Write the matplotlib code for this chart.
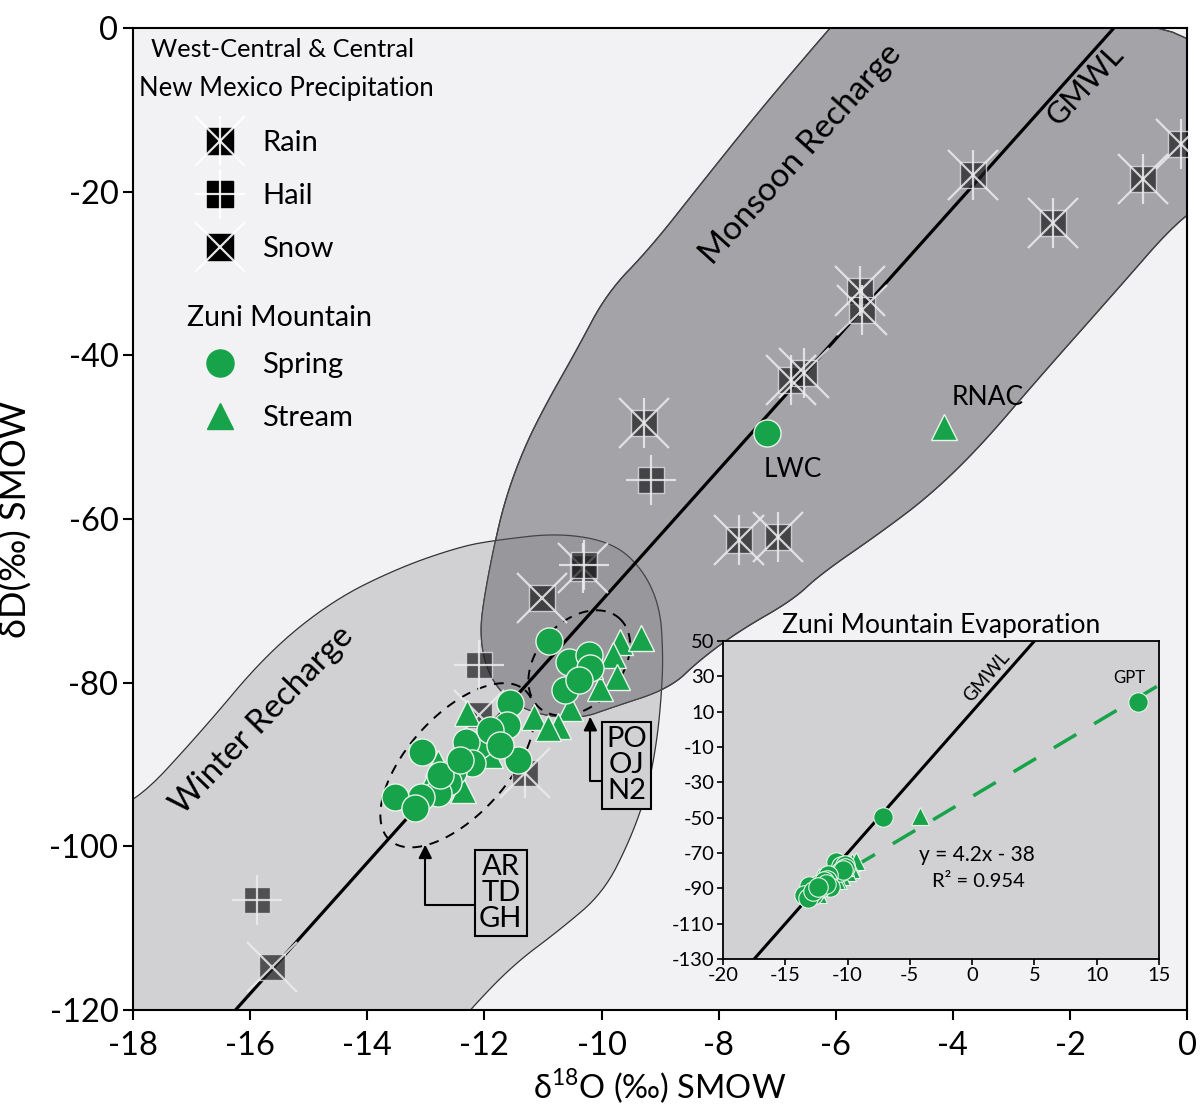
import matplotlib
matplotlib.use('Agg')
import matplotlib.pyplot as plt
import numpy as np
from matplotlib.lines import Line2D
from matplotlib.legend_handler import HandlerTuple
from matplotlib.patches import Polygon

plt.rcParams['font.family'] = ['Lato', 'DejaVu Sans']
plt.rcParams['axes.unicode_minus'] = False
plt.rcParams['mathtext.fontset'] = 'custom'
plt.rcParams['mathtext.rm'] = 'Lato'

# precipitation samples (d18O, dD)
rain_x = [-3.66, -2.29, -0.75, -0.10, -5.58, -5.55, -6.77, -6.55, -9.27, -7.66, -6.99, -10.32, -11.3]
rain_y = [-18.0, -23.8, -18.5, -14.2, -32.2, -34.5, -43.0, -42.2, -48.3, -62.6, -62.2, -66.0, -91.0]
hail_x = [-9.15, -12.10, -15.88, -10.30]
hail_y = [-55.2, -77.8, -106.6, -65.6]
snow_x = [-11.01, -15.62, -12.1]
snow_y = [-69.7, -114.7, -84.0]

# Zuni Mountain springs and streams
spring_x = [-10.89, -10.56, -10.21, -10.19, -10.63, -10.38, -11.57, -11.62, -11.42, -12.09,
            -12.32, -12.21, -12.53, -13.06, -12.62, -12.79, -13.09, -13.52, -13.18, -11.90,
            -11.73, -12.75, -12.41, -7.18]
spring_y = [-74.9, -77.5, -76.6, -78.2, -80.9, -79.7, -82.5, -85.2, -89.5, -87.6,
            -87.3, -89.8, -90.9, -88.5, -92.1, -93.5, -94.0, -94.0, -95.3, -85.8,
            -87.6, -91.3, -89.5, -49.5]
stream_x = [-9.68, -9.33, -9.81, -9.74, -10.02, -10.53, -10.75, -10.2,
            -12.29, -11.16, -12.80, -12.36, -12.92, -11.9, -10.92, -4.15]
stream_y = [-75.0, -74.5, -76.6, -79.3, -80.7, -83.1, -85.3, -78.0,
            -83.7, -84.2, -89.8, -93.1, -91.9, -88.8, -85.5, -48.8]
gpt_x = [13.3]
gpt_y = [15.5]

# meteoric water line and evaporation fit
gmwl_slope, gmwl_int = 8.0, 10.0
evap_slope, evap_int = 4.2, -38.0

# recharge envelopes (d18O, dD)
monsoon_x = [-5.9, -6.10, -7.29, -8.32, -9.17, -9.91, -10.42, -10.96, -11.34, -11.65, -11.85, -12.01,
             -12.07, -12.01, -11.82, -11.48, -10.96, -10.32, -9.85, -8.83, -8.32, -7.63, -6.73,
             -6.27, -5.24, -4.39, -3.54, -2.56, -1.32, 0.0, 0.8, 0.8]
monsoon_y = [1.5, 0.0, -10.0, -19.2, -26.9, -32.4, -39.3, -46.1, -51.6, -57.7, -63.8, -69.9,
             -73.6, -77.2, -80.3, -82.7, -84.1, -84.3, -83.1, -80.7, -77.2, -73.6, -69.9,
             -66.8, -61.7, -57.1, -51.2, -43.0, -33.0, -22.2, -20.0, 1.5]
winter_x = [-18.8, -18.0, -16.86, -15.71, -14.58, -13.44, -12.42, -11.82, -10.71, -9.80, -9.29, -9.00,
            -8.95, -8.97, -9.05, -9.21, -9.51, -9.97, -10.71, -11.51, -12.25, -12.7, -18.8]
winter_y = [-96.0, -95.0, -86.2, -76.4, -69.9, -65.9, -63.4, -62.6, -61.7, -62.9, -66.2, -70.8,
            -76.4, -80.9, -87.0, -93.1, -99.2, -105.7, -110.2, -114.5, -120.0, -124.0, -124.0]


def smooth(xs, ys, n=3):
    p = np.column_stack([xs, ys])
    for _ in range(n):
        q = np.roll(p, -1, axis=0)
        p = np.column_stack([0.75 * p + 0.25 * q, 0.25 * p + 0.75 * q]).reshape(-1, 2)
    return p


green = '#17a34a'
fig = plt.figure(figsize=(12.02, 11.14), dpi=100)
ax = fig.add_axes([0.1107, 0.0934, 0.8769, 0.8815])
ax.set_facecolor('#f2f2f4')
ax.set_xlim(-18, 0)
ax.set_ylim(-120, 0)

wpts = smooth(winter_x, winter_y)
mpts = smooth(monsoon_x, monsoon_y)
winter = Polygon(wpts, closed=True, fc='#d1d1d3', ec='#333333', lw=0.9, zorder=1)
monsoon = Polygon(mpts, closed=True, fc='#a4a4a8', ec='#333333', lw=0.9, zorder=1.1)
ax.add_patch(winter)
ax.add_patch(monsoon)
overlap = Polygon(wpts, closed=True, fc='#98989c', ec='#444444', lw=0.9, zorder=1.2)
ax.add_patch(overlap)
overlap.set_clip_path(monsoon)
edge = Polygon(mpts, closed=True, fill=False, ec='#444444', lw=0.9, zorder=1.3)
ax.add_patch(edge)

gx = np.array([-18, 0])
ax.plot(gx, gmwl_slope * gx + gmwl_int, color='black', lw=2.3, zorder=2)

# dashed groupings around sample clusters
t = np.linspace(0, 2 * np.pi, 200)
ax.plot(-12.46 + 1.154 * np.cos(t) + 0.635 * np.sin(t), -90.1 + 9.17 * np.cos(t) - 4.08 * np.sin(t),
        color='black', lw=1.4, dashes=(5, 4), zorder=2)
ax.plot(-10.38 + 0.686 * np.cos(t) + 0.533 * np.sin(t), -77.6 + 5.45 * np.cos(t) - 3.43 * np.sin(t),
        color='black', lw=1.4, dashes=(5, 4), zorder=2)

sq = dict(ls='none', marker='s', ms=18.5, mfc=(0.12, 0.12, 0.13, 0.72), mec=(0.88, 0.88, 0.9, 0.8), mew=1.0)
xs = dict(ls='none', marker='x', ms=36, mec=(0.93, 0.93, 0.94, 0.85), mew=1.6)
vs = dict(ls='none', marker='|', ms=36, mec=(0.93, 0.93, 0.94, 0.85), mew=1.6)
hs = dict(ls='none', marker='_', ms=36, mec=(0.93, 0.93, 0.94, 0.85), mew=1.6)
for px, py, parts in [(rain_x, rain_y, [sq, xs, vs]), (hail_x, hail_y, [sq, vs, hs]), (snow_x, snow_y, [sq, xs])]:
    for p in parts:
        ax.plot(px, py, zorder=3, **p)

ax.plot(stream_x, stream_y, ls='none', marker='^', ms=19, mfc=green, mec='#e8f3ea', mew=1.0, zorder=4)
ax.plot(spring_x, spring_y, ls='none', marker='o', ms=19.5, mfc=green, mec='#e8f3ea', mew=1.0, zorder=4)

ax.text(-6.73, -54.0, 'LWC', fontsize=19, ha='center', va='center', zorder=5)
ax.text(-3.40, -45.2, 'RNAC', fontsize=19, ha='center', va='center', zorder=5)
ax.text(-6.60, -15.5, 'Monsoon Recharge', fontsize=24, rotation=48, ha='center', va='center', rotation_mode='anchor')
ax.text(-15.79, -84.6, 'Winter Recharge', fontsize=24, rotation=46, ha='center', va='center', rotation_mode='anchor')
ax.text(-1.73, -7.0, 'GMWL', fontsize=22, rotation=47, ha='center', va='center', rotation_mode='anchor')

box = dict(boxstyle='square,pad=0.15', fc='#d1d1d3', ec='black', lw=1.5)
ax.annotate('PO\nOJ\nN2', xy=(-10.19, -84.2), xytext=(-9.57, -90.1), fontsize=21, ha='center', va='center',
            linespacing=1.0, bbox=box, zorder=5,
            arrowprops=dict(arrowstyle='-|>', mutation_scale=20, lw=1.5, color='black', relpos=(0, 0.3),
                            connectionstyle='angle,angleA=180,angleB=90,rad=0', shrinkA=0, shrinkB=0))
ax.annotate('AR\nTD\nGH', xy=(-13.01, -99.8), xytext=(-11.72, -105.7), fontsize=21, ha='center', va='center',
            linespacing=1.0, bbox=box, zorder=5,
            arrowprops=dict(arrowstyle='-|>', mutation_scale=20, lw=1.5, color='black', relpos=(0, 0.34),
                            connectionstyle='angle,angleA=180,angleB=90,rad=0', shrinkA=0, shrinkB=0))


# legends
def mk(p, face, line):
    d = dict(p)
    if d['marker'] == 's':
        d['mfc'] = face
        d['mec'] = face
    else:
        d['mec'] = line
    return Line2D([], [], **d)


white = (1, 1, 1, 0.9)
h_rain = (mk(sq, 'black', None), mk(xs, None, white), mk(vs, None, white))
h_hail = (mk(sq, 'black', None), mk(vs, None, white), mk(hs, None, white))
h_snow = (mk(sq, 'black', None), mk(xs, None, white))
legkw = dict(loc='upper left', frameon=False, fontsize=21, borderpad=0, borderaxespad=0,
             labelspacing=0.92, handlelength=2.0, handletextpad=0.45)
leg1 = ax.legend([h_rain, h_hail, h_snow], ['Rain', 'Hail', 'Snow'],
                 handler_map={tuple: HandlerTuple(ndivide=1, pad=0)},
                 bbox_to_anchor=(0.055, 0.8956), **legkw)
ax.add_artist(leg1)
h_spring = Line2D([], [], ls='none', marker='o', ms=19.5, mfc=green, mec=green)
h_stream = Line2D([], [], ls='none', marker='^', ms=19, mfc=green, mec=green)
ax.legend([h_spring, h_stream], ['Spring', 'Stream'], bbox_to_anchor=(0.055, 0.6696), **legkw)
ax.text(0.142, 0.9776, 'West-Central & Central', transform=ax.transAxes, fontsize=18.3, ha='center', va='center')
ax.text(0.145, 0.9379, 'New Mexico Precipitation', transform=ax.transAxes, fontsize=18.5, ha='center', va='center')
ax.text(0.139, 0.7047, 'Zuni Mountain', transform=ax.transAxes, fontsize=20.5, ha='center', va='center')

ax.set_xticks(np.arange(-18, 1, 2))
ax.set_yticks(np.arange(-120, 1, 20))
ax.tick_params(labelsize=23.5, length=7, width=1.5, direction='out')
ax.tick_params(axis='x', pad=8)
for s in ax.spines.values():
    s.set_linewidth(1.5)
ax.set_xlabel(r'δ$^{18}$O (‰) SMOW', fontsize=23.5, labelpad=4)
ax.set_ylabel('δD(‰) SMOW', fontsize=26, labelpad=12)

# inset: evaporation
ins = fig.add_axes([0.6015, 0.1391, 0.3627, 0.2855])
ins.set_facecolor('#d1d1d3')
ins.set_xlim(-20, 15)
ins.set_ylim(-130, 50)
ix = np.array([-20, 15])
ins.plot(ix, gmwl_slope * ix + gmwl_int, color='black', lw=2.2, zorder=2)
ex = np.array([-9.6, 15])
ins.plot(ex, evap_slope * ex + evap_int, color=green, lw=2.5, dashes=(7.5, 6), zorder=2)
ins.plot(stream_x, stream_y, ls='none', marker='^', ms=13, mfc=green, mec='#e8f3ea', mew=0.8, zorder=3)
ins.plot(spring_x + gpt_x, spring_y + gpt_y, ls='none', marker='o', ms=14, mfc=green, mec='#e8f3ea', mew=0.8, zorder=4)
ins.text(12.6, 29, 'GPT', fontsize=12, ha='center', va='center')
ins.text(1.2, 29.6, 'GMWL', fontsize=13.5, rotation=49, ha='center', va='center', rotation_mode='anchor')
ins.text(0.4, -71, 'y = 4.2x - 38', fontsize=15, ha='center', va='center')
ins.text(0.5, -86, 'R² = 0.954', fontsize=14.5, ha='center', va='center')
ins.set_title('Zuni Mountain Evaporation', fontsize=19, pad=6)
ins.set_xticks(np.arange(-20, 16, 5))
ins.set_yticks(np.arange(-130, 51, 20))
ins.tick_params(labelsize=14.5, length=4, width=1.2, direction='out', pad=2)
for s in ins.spines.values():
    s.set_linewidth(1.3)

fig.savefig('out.png', dpi=100)
